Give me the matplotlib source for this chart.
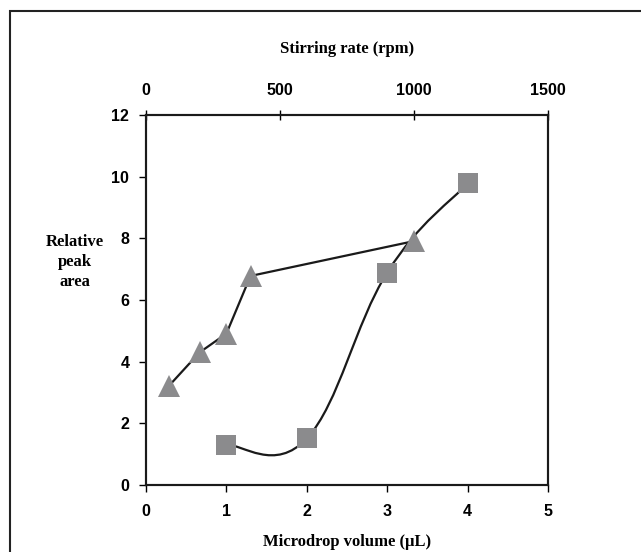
import matplotlib
matplotlib.use("Agg")
import matplotlib.pyplot as plt
from matplotlib.path import Path
from matplotlib.patches import PathPatch, Rectangle
import numpy as np

# Data
volume = [1, 2, 3, 4]
volume_area = [1.30, 1.51, 6.89, 9.78]
rpm = [85, 200, 300, 390, 1000]
rpm_area = [3.21, 4.30, 4.91, 6.78, 7.91]

x_ticks = [0, 1, 2, 3, 4, 5]
top_ticks = [0, 500, 1000, 1500]
y_ticks = [0, 2, 4, 6, 8, 10, 12]

MARK = "#8b8b8d"
LINE = "#1a1a1a"
sans = "Liberation Sans"
serif = "Liberation Serif"


def smooth_path(xs, ys, t):
    pts = np.column_stack([xs, ys]).astype(float)
    n = len(pts)
    verts = [pts[0]]
    codes = [Path.MOVETO]
    for i in range(n - 1):
        p0 = pts[i - 1] if i > 0 else pts[i]
        p1 = pts[i]
        p2 = pts[i + 1]
        p3 = pts[i + 2] if i + 2 < n else pts[i + 1]
        c1 = p1 + (p2 - p0) * t
        c2 = p2 - (p3 - p1) * t
        verts += [c1, c2, p2]
        codes += [Path.CURVE4] * 3
    return Path(verts, codes)


fig = plt.figure(figsize=(6.41, 5.52), dpi=100)
ax = fig.add_axes([146 / 641, 1 - 485 / 552, (548 - 146) / 641, (485 - 115) / 552])
ax2 = ax.twiny()

ax.set_xlim(0, 5)
ax.set_ylim(0, 12)
ax2.set_xlim(0, 1500)

# Square series (bottom axis), smoothed
ax.add_patch(PathPatch(smooth_path(volume, volume_area, 0.2), fill=False,
                       edgecolor=LINE, lw=1.6, zorder=2))
ax.plot(volume, volume_area, linestyle="none", marker="s", markersize=14.5,
        color=MARK, markeredgewidth=0, zorder=3)

# Triangle series (top axis), straight segments
ax2.plot(rpm, rpm_area, color=LINE, lw=1.6, zorder=2)
ax2.plot(rpm, rpm_area, linestyle="none", marker="^", markersize=16.5,
         color=MARK, markeredgewidth=0, zorder=3)

for a in (ax, ax2):
    for s in a.spines.values():
        s.set_linewidth(1.5)
        s.set_color("#1a1a1a")

ax.set_xticks(x_ticks)
ax.set_yticks(y_ticks)
ax2.set_xticks(top_ticks)
ax.tick_params(axis="y", direction="out", length=5, width=1.0, pad=7)
ax.tick_params(axis="x", direction="out", length=5, width=1.0, pad=8.5)
ax2.tick_params(axis="x", direction="inout", length=7, width=1.0, pad=9)

for lab in ax.get_xticklabels() + ax.get_yticklabels() + ax2.get_xticklabels():
    lab.set_fontfamily(sans)
    lab.set_fontweight("bold")
    lab.set_fontsize(11.5)

ax.set_xlabel("Microdrop volume (µL)", fontfamily=serif, fontweight="bold",
              fontsize=12, labelpad=11)
ax2.set_xlabel("Stirring rate (rpm)", fontfamily=serif, fontweight="bold",
               fontsize=12, labelpad=21)
fig.text(75 / 641, 1 - 262 / 552, "Relative\npeak\narea", ha="center", va="center",
         fontfamily=serif, fontweight="bold", fontsize=12, linespacing=1.3)

# Outer frame
fig.patches.append(Rectangle((10 / 641, -0.2), 1.5, (552 - 10.5) / 552 + 0.2,
                             transform=fig.transFigure, fill=False,
                             edgecolor="#222222", lw=1.5))

fig.savefig("out.png", dpi=100)
